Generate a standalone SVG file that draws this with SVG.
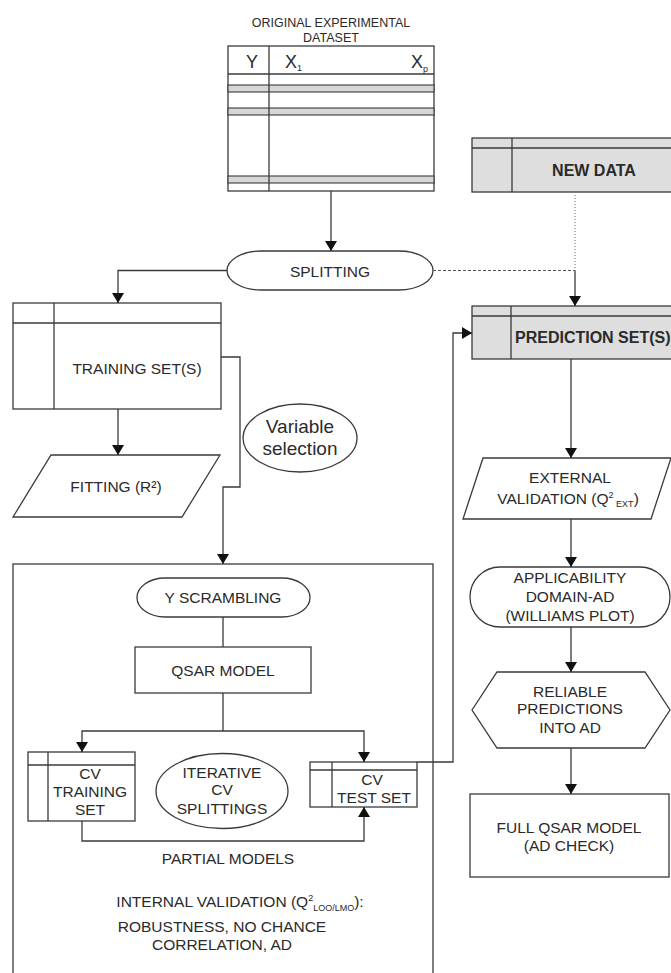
<svg xmlns="http://www.w3.org/2000/svg" width="671" height="973" viewBox="0 0 671 973">
<style>
  .ln{fill:none;stroke:#3a3a3a;stroke-width:1.3}
  .bx{fill:#fff;stroke:#3a3a3a;stroke-width:1.3}
  .gx{fill:#dedede;stroke:#3a3a3a;stroke-width:1.3}
  .band{fill:#d6d6d6;stroke:#3a3a3a;stroke-width:1.1}
  .t{font-family:"Liberation Sans",Arial,sans-serif;font-size:15.5px;fill:#2a2a2a;text-anchor:middle}
  .tb{font-family:"Liberation Sans",Arial,sans-serif;font-size:16px;font-weight:bold;fill:#2a2a2a}
  .ts{font-family:"Liberation Sans",Arial,sans-serif;font-size:12.5px;fill:#2a2a2a;text-anchor:middle}
  .tv{font-family:"Liberation Sans",Arial,sans-serif;font-size:19px;fill:#2a2a2a;text-anchor:middle}
  .th{font-family:"Liberation Sans",Arial,sans-serif;font-size:18px;fill:#2a2a2a}
  .sub{font-size:9px}
  .dash{fill:none;stroke:#555;stroke-width:1.1;stroke-dasharray:3,2}
  .dot{fill:none;stroke:#777;stroke-width:1.1;stroke-dasharray:1,2}
</style>
<defs>
  <marker id="ah" viewBox="0 0 10 12" refX="10" refY="6" markerWidth="10" markerHeight="12" markerUnits="userSpaceOnUse" orient="auto">
    <path d="M0,0 L10,6 L0,12 Z" fill="#111"/>
  </marker>
</defs>

<g id="dataset">
  <text class="ts" x="331" y="27">ORIGINAL EXPERIMENTAL</text>
  <text class="ts" x="331" y="41.5">DATASET</text>
  <rect class="bx" x="228" y="46" width="206" height="145"/>
  <rect class="band" x="228" y="85" width="206" height="7"/>
  <rect class="band" x="228" y="108" width="206" height="7"/>
  <rect class="band" x="228" y="176" width="206" height="7"/>
  <line class="ln" x1="228" y1="74" x2="434" y2="74"/>
  <line class="ln" x1="269" y1="46" x2="269" y2="191"/>
  <text class="th" x="252" y="68" text-anchor="middle">Y</text>
  <text class="th" x="285" y="68">X<tspan class="sub" dy="3">1</tspan></text>
  <text class="th" x="411" y="68">X<tspan class="sub" dy="4">p</tspan></text>
</g>

<g id="newdata">
  <rect class="gx" x="472" y="138" width="205" height="54"/>
  <line class="ln" x1="472" y1="148" x2="677" y2="148"/>
  <line class="ln" x1="512" y1="138" x2="512" y2="192"/>
  <text class="tb" x="594" y="175.5" text-anchor="middle">NEW DATA</text>
</g>

<g id="splitting">
  <rect class="bx" x="227" y="251" width="206" height="39" rx="34" ry="19.5"/>
  <text class="t" x="330" y="276.5">SPLITTING</text>
</g>

<g id="training">
  <rect class="bx" x="13" y="303" width="208" height="106"/>
  <line class="ln" x1="13" y1="323" x2="221" y2="323"/>
  <line class="ln" x1="54" y1="303" x2="54" y2="409"/>
  <text class="t" x="137" y="373.5">TRAINING SET(S)</text>
</g>

<g id="prediction">
  <rect class="gx" x="472" y="306" width="205" height="53"/>
  <line class="ln" x1="472" y1="316" x2="677" y2="316"/>
  <line class="ln" x1="511" y1="306" x2="511" y2="359"/>
  <text class="tb" x="515" y="343">PREDICTION SET(S)</text>
</g>

<g id="varsel">
  <ellipse class="bx" cx="300" cy="438" rx="57" ry="34"/>
  <text class="tv" x="300" y="433">Variable</text>
  <text class="tv" x="300" y="455">selection</text>
</g>

<g id="fitting">
  <polygon class="bx" points="51,455 220,455 182,517 13,517"/>
  <text class="t" x="116" y="491.5">FITTING (R²)</text>
</g>

<g id="internal">
  <rect class="bx" x="13" y="564" width="420" height="420"/>
  <text class="t" x="240" y="907">INTERNAL VALIDATION (Q<tspan class="sub" dy="-6">2</tspan><tspan class="sub" dy="10">LOO/LMO</tspan><tspan dy="-4">):</tspan></text>
  <text class="t" x="222" y="932">ROBUSTNESS, NO CHANCE</text>
  <text class="t" x="222" y="950">CORRELATION, AD</text>
</g>

<g id="yscrambling">
  <rect class="bx" x="137" y="578" width="173" height="39" rx="28" ry="19.5"/>
  <text class="t" x="223" y="602.5">Y SCRAMBLING</text>
</g>

<g id="qsarmodel">
  <rect class="bx" x="135" y="647" width="176" height="46"/>
  <text class="t" x="223" y="675.5">QSAR MODEL</text>
</g>

<g id="cvtraining">
  <rect class="bx" x="28" y="752" width="107" height="69"/>
  <line class="ln" x1="28" y1="765" x2="135" y2="765"/>
  <line class="ln" x1="48" y1="752" x2="48" y2="821"/>
  <text class="t" x="90" y="779">CV</text>
  <text class="t" x="90" y="797">TRAINING</text>
  <text class="t" x="90" y="814.5">SET</text>
</g>

<g id="iterative">
  <ellipse class="bx" cx="222" cy="791" rx="66" ry="37.5"/>
  <text class="t" x="222" y="777.5">ITERATIVE</text>
  <text class="t" x="222" y="795">CV</text>
  <text class="t" x="222" y="813.5">SPLITTINGS</text>
</g>

<g id="cvtest">
  <rect class="bx" x="310" y="762" width="107" height="45"/>
  <line class="ln" x1="310" y1="770" x2="417" y2="770"/>
  <line class="ln" x1="332" y1="762" x2="332" y2="807"/>
  <text class="t" x="372" y="784.5">CV</text>
  <text class="t" x="374" y="802.5">TEST SET</text>
</g>

<g id="partial">
  <text class="t" x="228" y="863.5">PARTIAL MODELS</text>
</g>

<g id="external">
  <polygon class="bx" points="483,458 671,458 651,519 463,519"/>
  <text class="t" x="570" y="482.5">EXTERNAL</text>
  <text class="t" x="568" y="503.5">VALIDATION (Q<tspan class="sub" dy="-6">2</tspan><tspan class="sub" dy="9"> EXT</tspan><tspan dy="-3">)</tspan></text>
</g>

<g id="applicability">
  <rect class="bx" x="470" y="567" width="200" height="60" rx="30" ry="30"/>
  <text class="t" x="570" y="582.5">APPLICABILITY</text>
  <text class="t" x="570" y="602">DOMAIN-AD</text>
  <text class="t" x="570" y="620.5">(WILLIAMS PLOT)</text>
</g>

<g id="reliable">
  <polygon class="bx" points="472,710 497,672 645,672 670,710 645,748 497,748"/>
  <text class="t" x="570" y="696.5">RELIABLE</text>
  <text class="t" x="570" y="713.5">PREDICTIONS</text>
  <text class="t" x="570" y="733">INTO AD</text>
</g>

<g id="fullqsar">
  <rect class="bx" x="470" y="794" width="199" height="83"/>
  <text class="t" x="569" y="832.5">FULL QSAR MODEL</text>
  <text class="t" x="569" y="850.5">(AD CHECK)</text>
</g>

<g id="connectors">
  <path class="ln" d="M331,191 V251" marker-end="url(#ah)"/>
  <path class="ln" d="M227,270.5 H118 V303" marker-end="url(#ah)"/>
  <path class="dash" d="M433,270.5 H575"/>
  <path class="dot" d="M575,192 V270.5"/>
  <path class="ln" d="M575,270.5 V306" marker-end="url(#ah)"/>
  <path class="ln" d="M118,409 V455" marker-end="url(#ah)"/>
  <path class="ln" d="M221,357 H240 V487 H223 V564" marker-end="url(#ah)"/>
  <path class="ln" d="M223,617 V647"/>
  <path class="ln" d="M223,693 V731"/>
  <path class="ln" d="M223,731 H82 V752" marker-end="url(#ah)"/>
  <path class="ln" d="M223,731 H364 V762" marker-end="url(#ah)"/>
  <path class="ln" d="M82,821 V841 H364 V807" marker-end="url(#ah)"/>
  <path class="ln" d="M417,762 H453 V333 H472" marker-end="url(#ah)"/>
  <path class="ln" d="M571,359 V458" marker-end="url(#ah)"/>
  <path class="ln" d="M571,519 V567" marker-end="url(#ah)"/>
  <path class="ln" d="M571,627 V672" marker-end="url(#ah)"/>
  <path class="ln" d="M571,748 V794" marker-end="url(#ah)"/>
</g>
</svg>
